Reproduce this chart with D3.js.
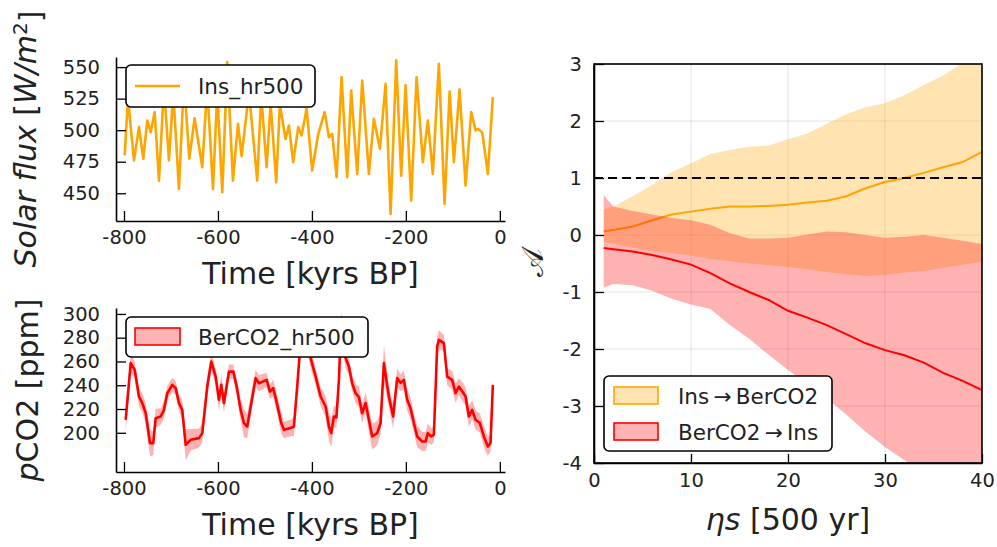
<!DOCTYPE html>
<html><head><meta charset="utf-8">
<script src="https://cdn.jsdelivr.net/npm/d3@7"></script>
<style>
body{margin:0;background:#fff}
svg{display:block}
text{font-family:"DejaVu Sans",sans-serif}
</style>
</head><body>
<svg id="c" width="997" height="547"></svg>
<script>
// ---------- data ----------
const insTime=[-798.5,-791.5,-778.7,-768.1,-758.9,-750.4,-743.2,-734.7,-725.5,-714.9,-704.3,-695.1,-683,-672.3,-661,-649.6,-633.4,-622.9,-610.6,-601.5,-590.8,-580.2,-568.1,-557.4,-549.6,-534,-516.4,-507.9,-496.4,-487.9,-476,-468.1,-456,-449,-439.9,-429.1,-422,-411.3,-399.4,-387.2,-372.9,-363.8,-356.8,-347.4,-336.8,-324.9,-316.4,-303.6,-292.9,-278.7,-268.1,-255.3,-243.2,-232.5,-220.6,-210,-200.6,-188.7,-177.2,-163.8,-153.2,-142.6,-129.8,-117.6,-106.9,-97.8,-85.7,-72.9,-61,-51.6,-46.8,-37.6,-25.5,-14.9];
const insFlux=[480,525,476,502.4,477.2,507.7,498.4,514.3,460,535,476,530,453.4,540,477.5,509.5,470.6,535,453.4,530,450.8,554,460,505,479.4,530,460,528,470.6,521,458.7,520,493,503.7,474.6,502.4,495.8,516.9,468,495.8,514.3,494.4,497,462.7,542,462.7,531.5,465.3,539.4,465.3,509,485.2,536.8,433.6,555.3,464,535.5,444.2,542,474.6,507.7,465.3,552.6,441.5,530.7,474.6,532.3,456.1,514.3,499.8,501,498.4,465.3,526.2];

const co2Time=[-796.4,-785.7,-777.2,-768.1,-761.1,-753.8,-744.7,-737.7,-732.6,-721.9,-714.9,-707.9,-697.2,-690,-683,-676,-668.7,-658.1,-640.4,-633.4,-622.8,-614.2,-604.9,-597.9,-593,-587.2,-576.6,-567.4,-560.2,-551.7,-544.7,-537.7,-519.8,-512.8,-496.4,-489.4,-482.3,-473.8,-465.3,-459.6,-445.3,-438.3,-431.3,-423.4,-412.8,-402.8,-392.1,-381.5,-370.8,-363.8,-358.9,-353.2,-347.8,-342.5,-337.7,-328.3,-321.3,-314.3,-307.1,-300,-293,-285.7,-278.7,-271.7,-261.1,-253.8,-246.8,-236.2,-227,-218.5,-211.3,-204.3,-197.2,-190,-183,-175.9,-165.3,-158.1,-153.2,-146.2,-140.4,-133.4,-129.8,-119.1,-112.1,-101.5,-94.2,-87.2,-80.2,-72.9,-65.9,-58.9,-51.7,-42.5,-34,-25.5,-19.8,-14.9];
const co2Val=[210.9,258.6,252.9,230.5,225,216.5,191.3,191.3,212.3,213.7,219.3,233.3,240.3,237.6,225,219.3,189.9,194.1,195.5,199.7,238.9,259.9,247.3,227.7,240.3,225,251.5,251.5,238.9,219.3,208.2,205.3,246,241.7,244.5,234.7,237.6,223.5,208.2,202.5,204,205.3,238.9,280,283,263,247.3,230.5,222.1,205.3,199.7,213.7,213,244.5,292,262.8,255.7,241.7,233.3,230,216.5,225,210.9,196.9,199.7,208.2,258.6,230.5,213.7,246,242,244.5,227.7,220.7,208.2,196.9,192.7,192.7,199.7,196.9,198.3,272.5,278.2,275.4,247.3,244.5,233.3,238.9,235,230.5,213.7,219.3,210.9,208.2,196.9,188.5,191.3,240.3];
const co2Err=[10,8,7,8,8,9,11,10,8,7,7,6,6,6,7,8,13,9,8,8,8,7,7,9,8,8,6,6,7,9,12,10,7,7,6,6,7,8,9,7,7,8,9,8,8,8,7,8,9,12,12,9,9,9,10,8,7,7,8,9,8,9,10,11,10,9,15,9,10,8,7,8,9,9,8,9,8,8,8,7,7,8,8,7,7,8,8,7,8,8,9,8,8,8,9,8,7,6];

const eta=[1,2,4,6,8,10,12,14,16,18,20,22,24,26,28,30,32,34,36,38,40];
const insToCo2Mean=[0.06,0.09,0.15,0.26,0.36,0.41,0.46,0.5,0.5,0.51,0.53,0.57,0.6,0.68,0.82,0.93,1.0,1.09,1.19,1.28,1.46];
const insToCo2Lo=[-0.12,-0.15,-0.22,-0.28,-0.32,-0.36,-0.42,-0.46,-0.5,-0.53,-0.56,-0.6,-0.65,-0.69,-0.72,-0.7,-0.66,-0.63,-0.58,-0.52,-0.47];
const insToCo2Hi=[0.45,0.5,0.68,0.88,1.1,1.26,1.42,1.49,1.55,1.57,1.68,1.78,1.95,2.12,2.24,2.31,2.45,2.63,2.8,3.02,3.25];
const co2ToInsMean=[-0.23,-0.25,-0.29,-0.35,-0.43,-0.52,-0.67,-0.85,-1.0,-1.14,-1.33,-1.45,-1.58,-1.74,-1.9,-2.02,-2.11,-2.24,-2.42,-2.56,-2.72];
const co2ToInsLo=[-0.92,-0.86,-0.88,-0.98,-1.12,-1.22,-1.3,-1.58,-1.82,-2.1,-2.37,-2.62,-2.87,-3.15,-3.45,-3.72,-3.95,-4.15,-4.35,-4.55,-4.75];
const co2ToInsHi=[0.7,0.5,0.42,0.36,0.3,0.26,0.18,0.03,-0.06,-0.06,-0.05,0.01,0.06,0.05,0.0,-0.05,-0.03,0.0,-0.05,-0.1,-0.16];

const timeTicks=[-800,-600,-400,-200,0];
const fluxTicks=[450,475,500,525,550];
const co2Ticks=[200,220,240,260,280,300];
const etaTicks=[0,10,20,30,40];
const aTicks=[-4,-3,-2,-1,0,1,2,3];
const thresholdA=1;

// ---------- drawing ----------
const ORANGE="#FFA500", RED="#FF0000";
const svg=d3.select("#c");
svg.append("rect").attr("width",997).attr("height",547).attr("fill","#fff");

function styleAxis(g,fs){
  g.attr("font-family",null).attr("font-size",null);
  g.select(".domain").attr("stroke","#000").attr("stroke-width",1.6);
  g.selectAll(".tick line").attr("stroke","#000").attr("stroke-width",1.3);
  g.selectAll(".tick text").attr("fill","#222").style("font-size",fs+"px");
}

// ===== top-left: insolation =====
const xTop=d3.scaleLinear().domain([-817,11]).range([116,505]);
const yTop=d3.scaleLinear().domain([428,558]).range([221,57]);
svg.append("path")
  .attr("d",d3.line().x(i=>xTop(insTime[i])).y(i=>yTop(insFlux[i]))(d3.range(insTime.length)))
  .attr("fill","none").attr("stroke",ORANGE).attr("stroke-width",2.6).attr("stroke-linejoin","round");
svg.append("g").attr("transform","translate(0,221)")
  .call(d3.axisBottom(xTop).tickValues(timeTicks).tickFormat(d=>String(d)).tickSizeInner(-10).tickSizeOuter(0).tickPadding(9))
  .call(g=>styleAxis(g,19.5));
svg.append("g").attr("transform","translate(116,0)")
  .call(d3.axisLeft(yTop).tickValues(fluxTicks).tickFormat(d=>String(d)).tickSizeInner(-10).tickSizeOuter(0).tickPadding(16))
  .call(g=>styleAxis(g,19.5));
// legend
svg.append("rect").attr("x",126).attr("y",65).attr("width",189).attr("height",42).attr("rx",5)
  .attr("fill","#fff").attr("stroke","#000").attr("stroke-width",1.6);
svg.append("line").attr("x1",135).attr("x2",180).attr("y1",86).attr("y2",86).attr("stroke",ORANGE).attr("stroke-width",2.6);
svg.append("text").attr("x",198).attr("y",86).attr("dy","0.36em").style("font-size","21.5px").attr("fill","#222").text("Ins_hr500");
// labels
svg.append("text").attr("x",310.5).attr("y",284).attr("text-anchor","middle").style("font-size","30px").attr("fill","#222").text("Time [kyrs BP]");
const yl1=svg.append("text").attr("transform","translate(36,139) rotate(-90)").attr("text-anchor","middle").style("font-size","30px").attr("fill","#222");
yl1.append("tspan").style("font-style","italic").text("Solar flux ");
yl1.append("tspan").text("[");
yl1.append("tspan").style("font-style","italic").text("W/m");
yl1.append("tspan").attr("dy","-0.45em").style("font-size","20px").text("2");
yl1.append("tspan").attr("dy","0.45em").text("]");

// ===== bottom-left: CO2 =====
const xBot=d3.scaleLinear().domain([-817,11]).range([116,505]);
const yBot=d3.scaleLinear().domain([167,305]).range([472,308]);
const idx=d3.range(co2Time.length);
svg.append("path")
  .attr("d",d3.area().x(i=>xBot(co2Time[i])).y0(i=>yBot(co2Val[i]-co2Err[i])).y1(i=>yBot(co2Val[i]+co2Err[i]))(idx))
  .attr("fill",RED).attr("fill-opacity",0.3);
svg.append("path")
  .attr("d",d3.line().x(i=>xBot(co2Time[i])).y(i=>yBot(co2Val[i]))(idx))
  .attr("fill","none").attr("stroke",RED).attr("stroke-width",2.6).attr("stroke-linejoin","round");
svg.append("g").attr("transform","translate(0,472)")
  .call(d3.axisBottom(xBot).tickValues(timeTicks).tickFormat(d=>String(d)).tickSizeInner(-10).tickSizeOuter(0).tickPadding(9))
  .call(g=>styleAxis(g,19.5));
svg.append("g").attr("transform","translate(116,0)")
  .call(d3.axisLeft(yBot).tickValues(co2Ticks).tickFormat(d=>String(d)).tickSizeInner(-10).tickSizeOuter(0).tickPadding(16))
  .call(g=>styleAxis(g,19.5));
svg.append("rect").attr("x",126).attr("y",317).attr("width",242).attr("height",40).attr("rx",5)
  .attr("fill","#fff").attr("stroke","#000").attr("stroke-width",1.6);
svg.append("rect").attr("x",135).attr("y",328).attr("width",45).attr("height",17)
  .attr("fill","#FFB3B3").attr("stroke",RED).attr("stroke-width",1.6);
svg.append("text").attr("x",198).attr("y",337).attr("dy","0.36em").style("font-size","21.5px").attr("fill","#222").text("BerCO2_hr500");
svg.append("text").attr("x",310.5).attr("y",535).attr("text-anchor","middle").style("font-size","30px").attr("fill","#222").text("Time [kyrs BP]");
const yl2=svg.append("text").attr("transform","translate(38,390) rotate(-90)").attr("text-anchor","middle").style("font-size","30px").attr("fill","#222");
yl2.append("tspan").style("font-style","italic").text("p");
yl2.append("tspan").text("CO2 [ppm]");

// ===== right: A vs eta s =====
const L=594,R=982,T=64,B=463;
const xR=d3.scaleLinear().domain([0,40]).range([L,R]);
const yR=d3.scaleLinear().domain([-4,3]).range([B,T]);
svg.append("clipPath").attr("id","clipR").append("rect").attr("x",L).attr("y",T).attr("width",R-L).attr("height",B-T);
const gr=svg.append("g");
gr.selectAll(".gx").data(etaTicks).join("line").attr("x1",d=>xR(d)).attr("x2",d=>xR(d)).attr("y1",T).attr("y2",B)
  .attr("stroke","#000").attr("stroke-opacity",0.1).attr("stroke-width",1);
gr.selectAll(".gy").data(aTicks).join("line").attr("y1",d=>yR(d)).attr("y2",d=>yR(d)).attr("x1",L).attr("x2",R)
  .attr("stroke","#000").attr("stroke-opacity",0.1).attr("stroke-width",1);
const pc=svg.append("g").attr("clip-path","url(#clipR)");
const ei=d3.range(eta.length);
pc.append("path").attr("d",d3.area().x(i=>xR(eta[i])).y0(i=>yR(insToCo2Lo[i])).y1(i=>yR(insToCo2Hi[i]))(ei))
  .attr("fill",ORANGE).attr("fill-opacity",0.3);
pc.append("path").attr("d",d3.line().x(i=>xR(eta[i])).y(i=>yR(insToCo2Mean[i]))(ei))
  .attr("fill","none").attr("stroke",ORANGE).attr("stroke-width",2);
pc.append("path").attr("d",d3.area().x(i=>xR(eta[i])).y0(i=>yR(co2ToInsLo[i])).y1(i=>yR(co2ToInsHi[i]))(ei))
  .attr("fill",RED).attr("fill-opacity",0.3);
pc.append("path").attr("d",d3.line().x(i=>xR(eta[i])).y(i=>yR(co2ToInsMean[i]))(ei))
  .attr("fill","none").attr("stroke",RED).attr("stroke-width",2);
pc.append("line").attr("x1",L).attr("x2",R).attr("y1",yR(thresholdA)).attr("y2",yR(thresholdA))
  .attr("stroke","#000").attr("stroke-width",2).attr("stroke-dasharray","9,5");
svg.append("g").attr("transform",`translate(0,${B})`)
  .call(d3.axisBottom(xR).tickValues(etaTicks).tickFormat(d=>String(d)).tickSizeInner(-9).tickSizeOuter(0).tickPadding(10))
  .call(g=>styleAxis(g,19.5));
svg.append("g").attr("transform",`translate(${L},0)`)
  .call(d3.axisLeft(yR).tickValues(aTicks).tickFormat(d=>String(d)).tickSizeInner(-10).tickSizeOuter(0).tickPadding(12))
  .call(g=>styleAxis(g,19.5));
svg.append("rect").attr("x",L).attr("y",T).attr("width",R-L).attr("height",B-T)
  .attr("fill","none").attr("stroke","#000").attr("stroke-width",1.6);
// legend
svg.append("rect").attr("x",604).attr("y",376).attr("width",228).attr("height",75).attr("rx",5)
  .attr("fill","#fff").attr("stroke","#000").attr("stroke-width",1.6);
svg.append("rect").attr("x",614).attr("y",387).attr("width",44).attr("height",17)
  .attr("fill","#FFE4B2").attr("stroke",ORANGE).attr("stroke-width",1.6);
svg.append("rect").attr("x",614).attr("y",423).attr("width",44).attr("height",17)
  .attr("fill","#FFB3B3").attr("stroke",RED).attr("stroke-width",1.6);
svg.append("text").attr("x",678).attr("y",396).attr("dy","0.36em").style("font-size","21.5px").attr("fill","#222").text("Ins\u2009\u2192\u2009BerCO2");
svg.append("text").attr("x",678).attr("y",432).attr("dy","0.36em").style("font-size","21.5px").attr("fill","#222").text("BerCO2\u2009\u2192\u2009Ins");
svg.append("text").attr("x",788).attr("y",530).attr("text-anchor","middle").style("font-size","30px").attr("fill","#222")
  .call(t=>{t.append("tspan").style("font-style","italic").text("\u03B7s");t.append("tspan").text(" [500 yr]");});
svg.append("text").attr("transform","translate(543,263) rotate(-90)").attr("text-anchor","middle")
  .style("font-size","30px").style("font-family","'DejaVu Serif','DejaVu Sans',serif").attr("fill","#222").text("\uD835\uDC9C");
</script>
</body></html>
